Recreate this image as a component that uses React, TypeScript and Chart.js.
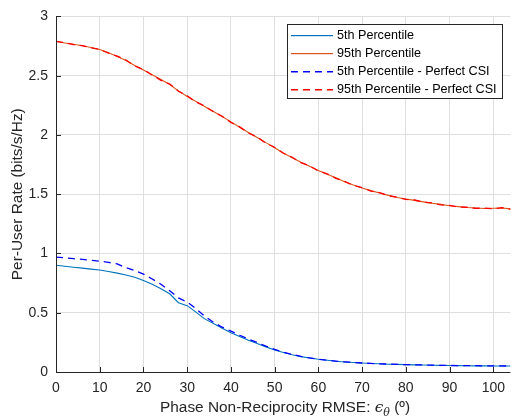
import React, { useEffect, useRef } from "react";
import { Chart, registerables } from "chart.js";

Chart.register(...registerables);

const xValues = [0, 2, 4, 6, 8, 10, 12, 14, 16, 18, 20, 22, 24, 26, 28, 30, 32, 34, 36, 38, 40, 42, 44, 46, 48, 50, 52, 54, 56, 58, 60, 62, 64, 66, 68, 70, 72, 74, 76, 78, 80, 82, 84, 86, 88, 90, 92, 94, 96, 98, 100, 102, 104];

const p5 = [0.900, 0.892, 0.884, 0.876, 0.868, 0.860, 0.848, 0.834, 0.818, 0.800, 0.772, 0.740, 0.702, 0.660, 0.585, 0.560, 0.505, 0.448, 0.410, 0.370, 0.332, 0.300, 0.268, 0.240, 0.212, 0.185, 0.165, 0.145, 0.130, 0.118, 0.107, 0.099, 0.091, 0.085, 0.080, 0.076, 0.072, 0.069, 0.066, 0.064, 0.062, 0.060, 0.059, 0.057, 0.056, 0.055, 0.054, 0.053, 0.052, 0.052, 0.051, 0.050, 0.050];

const p95 = [2.788, 2.776, 2.765, 2.752, 2.738, 2.720, 2.694, 2.662, 2.628, 2.585, 2.548, 2.508, 2.468, 2.425, 2.372, 2.325, 2.282, 2.240, 2.198, 2.155, 2.110, 2.065, 2.020, 1.978, 1.935, 1.892, 1.848, 1.808, 1.770, 1.735, 1.700, 1.668, 1.638, 1.605, 1.578, 1.553, 1.530, 1.510, 1.490, 1.472, 1.460, 1.448, 1.435, 1.423, 1.414, 1.402, 1.395, 1.388, 1.384, 1.379, 1.382, 1.383, 1.376];

const p5Perfect = [0.970, 0.963, 0.956, 0.950, 0.943, 0.935, 0.925, 0.912, 0.880, 0.855, 0.826, 0.785, 0.740, 0.685, 0.625, 0.590, 0.535, 0.470, 0.420, 0.378, 0.345, 0.310, 0.278, 0.248, 0.218, 0.190, 0.168, 0.148, 0.132, 0.119, 0.108, 0.099, 0.092, 0.086, 0.081, 0.076, 0.072, 0.069, 0.067, 0.064, 0.062, 0.061, 0.059, 0.058, 0.056, 0.055, 0.054, 0.053, 0.053, 0.052, 0.051, 0.051, 0.050];

const p95Perfect = [2.790, 2.778, 2.762, 2.754, 2.735, 2.722, 2.690, 2.665, 2.632, 2.582, 2.552, 2.505, 2.460, 2.430, 2.368, 2.330, 2.278, 2.244, 2.195, 2.158, 2.106, 2.068, 2.016, 1.982, 1.930, 1.896, 1.845, 1.812, 1.766, 1.738, 1.696, 1.672, 1.634, 1.608, 1.574, 1.556, 1.526, 1.513, 1.487, 1.475, 1.456, 1.451, 1.432, 1.426, 1.410, 1.405, 1.392, 1.390, 1.380, 1.383, 1.378, 1.386, 1.372];

const seriesLabels = ["5th Percentile", "95th Percentile", "5th Percentile - Perfect CSI", "95th Percentile - Perfect CSI"];
const seriesColors = ["#0072BD", "#D95319", "#0000FF", "#FF0000"];
const seriesDashed = [false, false, true, true];

const xLabelMain = "Phase Non-Reciprocity RMSE: ";
const xLabelSymbol = "\u03F5";
const xLabelSub = "\u03B8";
const xLabelTail = " (\u00BA)";
const yLabel = "Per-User Rate (bits/s/Hz)";

const AXIS = "#262626";
const FONT = "'Liberation Sans', Arial, Helvetica, sans-serif";

const decorPlugin = {
  id: "matlabDecor",
  afterDatasetsDraw(chart: any) {
    const ctx = chart.ctx as CanvasRenderingContext2D;
    const area = chart.chartArea;
    const xs = chart.scales.x;
    const ys = chart.scales.y;
    ctx.save();
    ctx.setLineDash([]);
    // axis lines
    ctx.strokeStyle = AXIS;
    ctx.lineWidth = 1;
    ctx.beginPath();
    ctx.moveTo(area.left + 0.5, area.top);
    ctx.lineTo(area.left + 0.5, area.bottom + 0.5);
    ctx.lineTo(area.right, area.bottom + 0.5);
    ctx.stroke();
    // inward ticks
    ctx.beginPath();
    xs.ticks.forEach((t: any) => {
      const px = Math.round(xs.getPixelForValue(t.value)) + 0.5;
      ctx.moveTo(px, area.bottom);
      ctx.lineTo(px, area.bottom - 5);
    });
    ys.ticks.forEach((t: any) => {
      const py = Math.round(ys.getPixelForValue(t.value)) + 0.5;
      ctx.moveTo(area.left, py);
      ctx.lineTo(area.left + 5, py);
    });
    ctx.stroke();

    // legend
    const bx = 287.5, by = 24.5, bw = 215, bh = 74;
    ctx.fillStyle = "#ffffff";
    ctx.fillRect(bx, by, bw, bh);
    ctx.strokeStyle = AXIS;
    ctx.lineWidth = 1;
    ctx.strokeRect(bx, by, bw, bh);
    const rows = [35, 53, 71, 89];
    ctx.font = `12.6px ${FONT}`;
    ctx.textBaseline = "middle";
    ctx.textAlign = "left";
    seriesLabels.forEach((lab, i) => {
      const y = rows[i];
      ctx.fillStyle = seriesColors[i];
      if (seriesDashed[i]) {
        for (let dx = 291; dx < 333; dx += 12) {
          ctx.fillRect(dx, y, Math.min(7, 333 - dx), 1.5);
        }
      } else {
        ctx.fillRect(291, y, 42, 1.2);
      }
      ctx.fillStyle = "#000000";
      ctx.fillText(lab, 337, y + 1);
    });

    // x axis title
    ctx.fillStyle = AXIS;
    ctx.textBaseline = "alphabetic";
    ctx.textAlign = "left";
    const base = 412;
    let cx = 160;
    ctx.font = `15.4px ${FONT}`;
    ctx.fillText(xLabelMain, cx, base);
    cx += ctx.measureText(xLabelMain).width;
    ctx.font = `italic 15.4px 'DejaVu Serif', serif`;
    ctx.fillText(xLabelSymbol, cx, base);
    cx += ctx.measureText(xLabelSymbol).width;
    ctx.font = `italic 11px 'DejaVu Serif', serif`;
    ctx.fillText(xLabelSub, cx, base + 4);
    cx += ctx.measureText(xLabelSub).width;
    ctx.font = `15.4px ${FONT}`;
    ctx.fillText(xLabelTail, cx, base);

    // y axis title
    ctx.save();
    ctx.translate(22, (area.top + area.bottom) / 2);
    ctx.rotate(-Math.PI / 2);
    ctx.textAlign = "center";
    ctx.textBaseline = "alphabetic";
    ctx.font = `15.4px ${FONT}`;
    ctx.fillText(yLabel, 0, 0);
    ctx.restore();

    ctx.restore();
  },
};

export default function App() {
  const ref = useRef<HTMLCanvasElement | null>(null);
  useEffect(() => {
    if (!ref.current) return;
    const series = [p5, p95, p5Perfect, p95Perfect];
    const chart = new Chart(ref.current, {
      type: "line",
      data: {
        datasets: series.map((s, i) => ({
          label: seriesLabels[i],
          data: xValues.map((x, j) => ({ x, y: s[j] })),
          borderColor: seriesColors[i],
          backgroundColor: seriesColors[i],
          borderWidth: seriesDashed[i] ? 1.3 : 1.1,
          borderDash: seriesDashed[i] ? [7, 5] : [],
          pointRadius: 0,
          tension: 0,
          fill: false,
          order: seriesDashed[i] ? 1 : 2,
        })),
      },
      options: {
        responsive: false,
        animation: false,
        events: [],
        layout: { padding: { top: 14, left: 0, right: 0, bottom: 0 } },
        plugins: { legend: { display: false }, tooltip: { enabled: false } },
        scales: {
          x: {
            type: "linear",
            min: 0,
            max: 103.9,
            border: { display: false },
            grid: { color: "#dfdfdf", drawTicks: false, lineWidth: 1 },
            ticks: {
              stepSize: 10,
              includeBounds: false,
              color: AXIS,
              padding: 8,
              maxRotation: 0,
              font: { family: FONT, size: 14 },
              callback: (v: any) => String(v),
            },
            afterFit: (s: any) => { s.height = 47; },
          },
          y: {
            type: "linear",
            min: 0,
            max: 3,
            border: { display: false },
            grid: { color: "#dfdfdf", drawTicks: false, lineWidth: 1 },
            ticks: {
              stepSize: 0.5,
              color: AXIS,
              padding: 8,
              font: { family: FONT, size: 14 },
              callback: (v: any) => String(v),
            },
            afterFit: (s: any) => { s.width = 56; },
          },
        },
      },
      plugins: [decorPlugin],
    } as any);
    return () => chart.destroy();
  }, []);
  return (
    <div style={{ position: "absolute", left: 0, top: 0, width: 513, height: 419, background: "#fff" }}>
      <canvas ref={ref} width={513} height={419} style={{ display: "block" }} />
    </div>
  );
}
